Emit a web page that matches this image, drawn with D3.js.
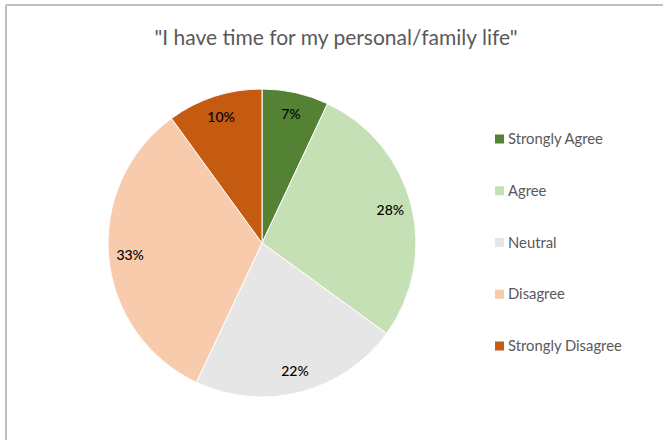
<!DOCTYPE html>
<html>
<head>
<meta charset="utf-8">
<script src="https://cdn.jsdelivr.net/npm/d3@7"></script>
<style>
  html, body { margin: 0; padding: 0; background: #fff; }
  svg { display: block; }
</style>
</head>
<body>
<svg id="chart" width="663" height="440"></svg>
<script>
// Survey responses
const categories = ["Strongly Agree", "Agree", "Neutral", "Disagree", "Strongly Disagree"];
const shares = [7, 28, 22, 33, 10];
const colors = ["#548235", "#C5E0B4", "#E6E6E6", "#F8CBAD", "#C55A11"];
const title = "\"I have time for my personal/family life\"";

const W = 663, H = 440;
const font = "Lato, 'Open Sans', 'Liberation Sans', sans-serif";
const svg = d3.select("#chart");

// chart frame (top and left edges)
svg.append("line").attr("x1", 6).attr("y1", 5).attr("x2", W).attr("y2", 5)
  .attr("stroke", "#bfbfbf").attr("stroke-width", 2);
svg.append("line").attr("x1", 6).attr("y1", 5).attr("x2", 6).attr("y2", H)
  .attr("stroke", "#bfbfbf").attr("stroke-width", 2);

svg.append("text")
  .attr("x", 336).attr("y", 45)
  .attr("text-anchor", "middle")
  .attr("font-family", font)
  .attr("font-size", 21)
  .attr("fill", "#595959")
  .text(title);

const cx = 262, cy = 243, r = 154;
const data = categories.map((c, i) => ({ cat: c, value: shares[i], color: colors[i] }));
const pie = d3.pie().value(d => d.value).sort(null);
const arcs = pie(data);
const arc = d3.arc().innerRadius(0).outerRadius(r);
const labelArc = d3.arc().innerRadius(r * 0.86).outerRadius(r * 0.86);

const g = svg.append("g").attr("transform", `translate(${cx},${cy})`);
g.selectAll("path").data(arcs).join("path")
  .attr("d", arc)
  .attr("fill", d => d.data.color)
  .attr("stroke", "#fff")
  .attr("stroke-width", 1);

g.selectAll("text.lbl").data(arcs).join("text")
  .attr("class", "lbl")
  .attr("transform", d => `translate(${labelArc.centroid(d)})`)
  .attr("text-anchor", "middle")
  .attr("dy", "0.35em")
  .attr("font-family", font)
  .attr("font-size", 14)
  .attr("font-weight", 500)
  .attr("fill", "#000")
  .text(d => d.data.value + "%");

// legend
const ly = d3.scalePoint().domain(categories).range([139, 346]);
const leg = svg.append("g").selectAll("g").data(data).join("g")
  .attr("transform", d => `translate(495,${ly(d.cat)})`);
leg.append("rect").attr("x", 0).attr("y", -4.5).attr("width", 9).attr("height", 9)
  .attr("fill", d => d.color);
leg.append("text").attr("x", 13).attr("y", 0).attr("dy", "0.35em")
  .attr("font-family", font).attr("font-size", 14.8).attr("fill", "#595959")
  .text(d => d.cat);
</script>
</body>
</html>
